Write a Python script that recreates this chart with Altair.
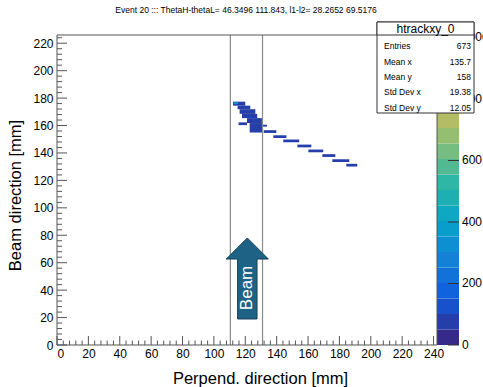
import altair as alt
import pandas as pd

FONT = "Liberation Sans"
W, H = 380, 310
XMAX, YMAX, ZMAX = 242.2, 226.0, 1008.0

# ---- histogram cells (data units) ----
cell_x0 = [112.2, 115.1, 116.4, 117.9, 121.1, 115.7, 122.8, 130.6,
           131.7, 137.9, 144.2, 153.2, 160.2, 169.1, 175.5, 184.4,
           112.5, 131.0]
cell_x1 = [120.0, 123.2, 126.4, 127.6, 130.6, 121.1, 131.3, 133.8,
           139.8, 146.2, 154.4, 162.1, 169.7, 177.4, 186.3, 191.4,
           115.5, 131.9]
cell_y0 = [174.5, 171.9, 168.5, 165.4, 161.8, 160.3, 154.9, 159.2,
           154.6, 150.9, 147.8, 144.1, 140.5, 137.1, 133.4, 130.1,
           175.6, 155.2]
cell_y1 = [177.4, 174.5, 171.9, 168.5, 165.4, 162.3, 161.8, 160.6,
           156.6, 152.9, 149.8, 146.1, 142.5, 139.1, 135.4, 132.1,
           177.0, 157.0]
cell_z = [50, 50, 50, 50, 50, 50, 50, 50,
          50, 50, 50, 50, 50, 50, 50, 50,
          300, 950]

# vertical guide lines
guide_x = [110.5, 131.0]

# stats box
stat_names = ["Entries", "Mean x", "Mean y", "Std Dev x", "Std Dev y"]
stat_values = ["673", "135.7", "158", "19.38", "12.05"]

# colour-bar labels
z_labels = [0, 200, 400, 600, 800, 1000]

# kBird palette
pal_stops = [0, 0.125, 0.25, 0.375, 0.5, 0.625, 0.75, 0.875, 1.0]
pal_colors = ["#352a87", "#0f5cdd", "#1481d6", "#06a4ca", "#2eb7a4",
              "#87bf77", "#d1bb59", "#fec832", "#f9fb0e"]
n_bands = 20

title_text = "Event 20 ::: ThetaH-thetaL= 46.3496 111.843, l1-l2= 28.2652 69.5176"

xs = alt.Scale(domain=[0, XMAX], nice=False, zero=False)
ys = alt.Scale(domain=[0, YMAX], nice=False, zero=False)
zs = alt.Scale(domain=[0, ZMAX], nice=False, zero=False)
cs = alt.Scale(domain=[s * ZMAX for s in pal_stops], range=pal_colors,
               type="linear", interpolate="rgb")

X_AX = alt.Axis(values=list(range(0, 241, 20)), ticks=False, domain=False, grid=False,
                labelFont=FONT, labelFontSize=12, labelColor="#000", labelPadding=3,
                title="Perpend. direction [mm]", titleFont=FONT, titleFontSize=16.5,
                titleFontWeight="normal", titleColor="#000", titleX=203, titleY=33,
                titleBaseline="middle", titleAlign="center")
Y_AX = alt.Axis(values=list(range(0, 221, 20)), ticks=False, domain=False, grid=False,
                labelFont=FONT, labelFontSize=12, labelColor="#000", labelPadding=4,
                title="Beam direction [mm]", titleFont=FONT, titleFontSize=16.5,
                titleFontWeight="normal", titleColor="#000", titleX=-42, titleY=160,
                titleAngle=270, titleBaseline="middle", titleAlign="center")

cells = pd.DataFrame({"x0": cell_x0, "x1": cell_x1, "y0": cell_y0, "y1": cell_y1, "z": cell_z})
cell_layer = alt.Chart(cells).mark_rect().encode(
    x=alt.X("x0:Q", scale=xs, axis=X_AX), x2="x1",
    y=alt.Y("y0:Q", scale=ys, axis=Y_AX), y2="y1",
    color=alt.Color("z:Q", scale=cs, legend=None),
)

band = ZMAX / n_bands
bands = pd.DataFrame({"z0": [i * band for i in range(n_bands)],
                      "z1": [(i + 1) * band for i in range(n_bands)]})
cbar = alt.Chart(bands).mark_rect().encode(
    x=alt.value(380), x2=alt.value(402),
    y=alt.Y("z0:Q", scale=zs, axis=None), y2="z1",
    color=alt.Color("z0:Q", scale=cs, legend=None),
)
zdf = pd.DataFrame({"z": z_labels, "t": [str(v) for v in z_labels]})
cbar_ticks = alt.Chart(zdf).mark_rule(color="#333", strokeWidth=1).encode(
    x=alt.value(391), x2=alt.value(402),
    y=alt.Y("z:Q", scale=zs, axis=None),
)
cbar_labels = alt.Chart(zdf).mark_text(font=FONT, fontSize=12, align="left",
                                       baseline="middle", color="#000").encode(
    x=alt.value(405), y=alt.Y("z:Q", scale=zs, axis=None), text="t:N")

xmaj = pd.DataFrame({"v": list(range(0, 241, 20))})
xmin = pd.DataFrame({"v": [v for v in range(0, 243, 4) if v % 20 != 0]})
ymaj = pd.DataFrame({"v": list(range(0, 221, 20))})
ymin = pd.DataFrame({"v": [v for v in range(0, 227, 4) if v % 20 != 0]})

tick_col = "#555"
xmaj_l = alt.Chart(xmaj).mark_rule(color=tick_col).encode(
    x=alt.X("v:Q", scale=xs, axis=X_AX), y=alt.value(H), y2=alt.value(H - 9))
xmin_l = alt.Chart(xmin).mark_rule(color=tick_col).encode(
    x=alt.X("v:Q", scale=xs, axis=X_AX), y=alt.value(H), y2=alt.value(H - 4.5))
ymaj_l = alt.Chart(ymaj).mark_rule(color=tick_col).encode(
    y=alt.Y("v:Q", scale=ys, axis=None), x=alt.value(0), x2=alt.value(10))
ymin_l = alt.Chart(ymin).mark_rule(color=tick_col).encode(
    y=alt.Y("v:Q", scale=ys, axis=None), x=alt.value(0), x2=alt.value(5))

guides = alt.Chart(pd.DataFrame({"x": guide_x})).mark_rule(color="#8a8a8a", strokeWidth=1.2).encode(
    x=alt.X("x:Q", scale=xs, axis=X_AX), y=alt.value(0), y2=alt.value(H))

one = pd.DataFrame({"a": [0]})
frame = alt.Chart(one).mark_rect(fillOpacity=0, stroke="#555", strokeWidth=1).encode(
    x=alt.value(0), x2=alt.value(W), y=alt.value(0), y2=alt.value(H))

arrow_path = "M 0 -1 L 0.52 -0.48 L 0.24 -0.48 L 0.24 1 L -0.24 1 L -0.24 -0.48 L -0.52 -0.48 Z"
arrow_df = pd.DataFrame({"x": [121.3], "y": [48.5]})
arrow = alt.Chart(arrow_df).mark_point(shape=arrow_path, filled=True, size=6561,
                                       fill="#1e6386", stroke="#153f58", strokeWidth=1,
                                       opacity=1).encode(
    x=alt.X("x:Q", scale=xs, axis=X_AX), y=alt.Y("y:Q", scale=ys, axis=None))
beam_df = pd.DataFrame({"x": [121.3], "y": [41.6], "t": ["Beam"]})
beam = alt.Chart(beam_df).mark_text(angle=270, color="white", font=FONT, fontSize=17,
                                    align="center", baseline="middle").encode(
    x=alt.X("x:Q", scale=xs, axis=X_AX), y=alt.Y("y:Q", scale=ys, axis=None), text="t:N")

# stats box (pixel annotations)
box = alt.Chart(one).mark_rect(fill="white", stroke="#333", strokeWidth=1).encode(
    x=alt.value(320), x2=alt.value(417), y=alt.value(-13), y2=alt.value(78))
box_head = alt.Chart(one).mark_rect(fill="white", stroke="#333", strokeWidth=1).encode(
    x=alt.value(320), x2=alt.value(417), y=alt.value(-13), y2=alt.value(0))
head_txt = alt.Chart(pd.DataFrame({"t": ["htrackxy_0"]})).mark_text(
    font=FONT, fontSize=12, align="center", baseline="middle", color="#000").encode(
    x=alt.value(368.5), y=alt.value(-6.5), text="t:N")
row_y = [11, 26.5, 42, 57, 72.5]
stat_layers = []
for nm, vl, yy in zip(stat_names, stat_values, row_y):
    d = pd.DataFrame({"n": [nm], "v": [vl]})
    stat_layers.append(alt.Chart(d).mark_text(font=FONT, fontSize=8.5, align="left",
                                              baseline="middle", color="#000").encode(
        x=alt.value(327), y=alt.value(yy), text="n:N"))
    stat_layers.append(alt.Chart(d).mark_text(font=FONT, fontSize=8.5, align="right",
                                              baseline="middle", color="#000").encode(
        x=alt.value(414), y=alt.value(yy), text="v:N"))

title = alt.Chart(pd.DataFrame({"t": [title_text]})).mark_text(
    font=FONT, fontSize=8.5, align="center", baseline="middle", color="#000").encode(
    x=alt.value(189), y=alt.value(-25), text="t:N")

chart = alt.layer(
    cell_layer, cbar, cbar_ticks, cbar_labels, guides, xmaj_l, xmin_l, ymaj_l, ymin_l,
    frame, arrow, beam, box, box_head, head_txt, *stat_layers, title
).resolve_scale(y="independent").properties(
    width=W, height=H,
    autosize=alt.AutoSizeParams(type="none"),
    padding={"left": 57, "top": 35, "right": 46, "bottom": 42},
    background="white",
).configure_view(strokeWidth=0)

chart.save("out.html", embed_options={"renderer": "svg", "actions": False})
